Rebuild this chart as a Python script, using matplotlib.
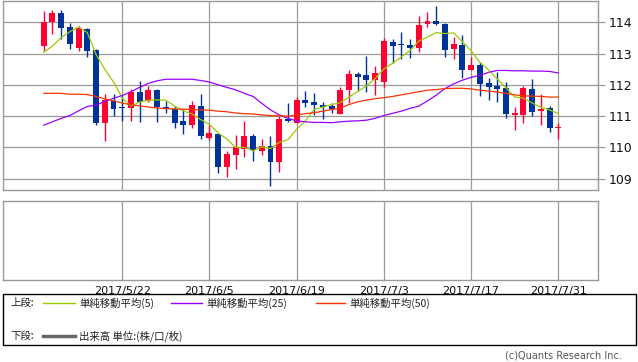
import numpy as np
import pandas as pd
import matplotlib
matplotlib.use('Agg')
import matplotlib.pyplot as plt
from matplotlib.patches import Rectangle
from matplotlib.lines import Line2D

plt.rcParams['font.family'] = ['DejaVu Sans']

# 営業日 2017/5/9 - 2017/7/31
dates = pd.bdate_range('2017-05-09', '2017-07-31')

opens = [113.25, 114.00, 114.29, 113.84, 113.19, 113.79, 113.12, 110.79, 111.48, 111.30,
         111.27, 111.77, 111.47, 111.84, 111.29, 111.24, 110.85, 110.73, 111.33, 110.30,
         110.43, 109.39, 109.77, 109.95, 110.37, 109.90, 110.06, 109.52, 110.92, 110.79,
         111.51, 111.45, 111.35, 111.32, 111.08, 111.84, 112.35, 112.31, 112.17, 112.10,
         113.36, 113.29, 113.27, 113.19, 113.96, 114.04, 113.95, 113.16, 113.27, 112.48,
         112.63, 112.06, 111.96, 111.90, 111.04, 111.05, 111.87, 111.15, 111.26, 110.62]
highs = [114.36, 114.39, 114.39, 113.99, 113.88, 113.82, 113.14, 111.70, 111.70, 111.63,
         111.86, 112.13, 111.97, 111.86, 111.48, 111.33, 111.23, 111.49, 111.70, 110.72,
         110.47, 109.89, 110.40, 110.83, 110.43, 110.27, 110.35, 110.99, 111.42, 111.60,
         111.81, 111.73, 111.45, 111.41, 111.92, 112.47, 112.42, 112.92, 112.60, 113.49,
         113.47, 113.69, 113.47, 114.21, 114.33, 114.52, 113.97, 113.54, 113.59, 112.88,
         112.72, 112.22, 112.42, 112.08, 111.29, 111.96, 112.19, 111.71, 111.32, 110.79]
lows = [113.08, 113.61, 113.45, 113.16, 113.09, 112.90, 110.73, 110.19, 111.00, 110.86,
        110.83, 110.82, 111.46, 110.82, 111.11, 110.63, 110.44, 110.63, 110.27, 110.24,
        109.17, 109.07, 109.32, 109.71, 109.58, 109.76, 108.78, 109.22, 110.82, 110.77,
        111.28, 111.03, 110.92, 111.10, 111.07, 111.43, 111.79, 111.78, 111.67, 111.92,
        112.69, 112.82, 112.87, 113.06, 113.84, 113.90, 112.90, 112.84, 112.22, 112.46,
        111.65, 111.51, 111.45, 110.95, 110.56, 110.79, 111.00, 110.72, 110.50, 110.28]
closes = [114.00, 114.29, 113.83, 113.32, 113.81, 113.09, 110.78, 111.52, 111.24, 111.27,
          111.77, 111.45, 111.84, 111.29, 111.22, 110.79, 110.72, 111.35, 110.38, 110.45,
          109.39, 109.79, 110.00, 110.35, 109.91, 110.06, 109.54, 110.92, 110.84, 111.53,
          111.41, 111.36, 111.29, 111.24, 111.83, 112.35, 112.26, 112.15, 112.39, 113.40,
          113.25, 113.26, 113.19, 113.91, 114.04, 113.93, 113.11, 113.32, 112.48, 112.63,
          112.04, 111.94, 111.88, 111.08, 111.10, 111.90, 111.14, 111.24, 110.63, 110.62]

sma5 = [113.04, 113.24, 113.51, 113.70, 113.85, 113.67, 112.97, 112.50, 112.09, 111.58,
        111.32, 111.45, 111.51, 111.52, 111.51, 111.32, 111.17, 111.07, 110.89, 110.74,
        110.46, 110.27, 110.00, 110.00, 109.89, 110.02, 109.97, 110.16, 110.25, 110.58,
        110.85, 111.21, 111.29, 111.37, 111.43, 111.61, 111.79, 111.97, 112.20, 112.51,
        112.69, 112.89, 113.10, 113.40, 113.53, 113.67, 113.64, 113.66, 113.38, 113.09,
        112.72, 112.48, 112.19, 111.91, 111.61, 111.58, 111.42, 111.29, 111.20, 111.08]
sma25 = [110.71, 110.82, 110.93, 111.02, 111.17, 111.31, 111.35, 111.47, 111.57, 111.66,
         111.78, 111.92, 112.05, 112.13, 112.18, 112.18, 112.18, 112.18, 112.14, 112.09,
         112.00, 111.92, 111.84, 111.73, 111.63, 111.41, 111.20, 111.04, 110.93, 110.85,
         110.82, 110.80, 110.80, 110.79, 110.82, 110.84, 110.85, 110.87, 110.93, 111.02,
         111.09, 111.16, 111.25, 111.32, 111.49, 111.67, 111.88, 112.03, 112.15, 112.24,
         112.30, 112.40, 112.46, 112.46, 112.45, 112.45, 112.44, 112.44, 112.43, 112.38]
sma50 = [111.73, 111.73, 111.73, 111.70, 111.70, 111.69, 111.63, 111.55, 111.49, 111.42,
         111.36, 111.33, 111.29, 111.26, 111.24, 111.23, 111.22, 111.21, 111.20, 111.19,
         111.16, 111.14, 111.10, 111.08, 111.07, 111.04, 111.02, 111.01, 111.00, 111.04,
         111.08, 111.11, 111.16, 111.21, 111.26, 111.37, 111.46, 111.51, 111.56, 111.59,
         111.63, 111.68, 111.73, 111.78, 111.83, 111.85, 111.88, 111.89, 111.89, 111.87,
         111.83, 111.80, 111.77, 111.73, 111.68, 111.65, 111.64, 111.63, 111.61, 111.61]

tick_dates = ['2017-05-22', '2017-06-05', '2017-06-19', '2017-07-03', '2017-07-17', '2017-07-31']
tick_labels = ['2017/5/22', '2017/6/5', '2017/6/19', '2017/7/3', '2017/7/17', '2017/7/31']
price_ticks = [109, 110, 111, 112, 113, 114]

UP = '#ff0033'
DOWN = '#003399'
GRID = '#999999'

W, H = 638, 362
fig = plt.figure(figsize=(W / 100, H / 100), dpi=100)

def px_axes(x0, y0, x1, y1):
    return fig.add_axes([x0 / W, 1 - y1 / H, (x1 - x0) / W, (y1 - y0) / H])

ax = px_axes(3, 1, 598, 190)
axv = px_axes(3, 201, 598, 280)

idx = np.arange(len(dates))
o = np.array(opens)
c = np.array(closes)
up = c >= o
colors = np.where(up, UP, DOWN)

ax.vlines(idx, lows, highs, colors=colors, lw=1.0, zorder=3)
body_lo = np.minimum(o, c)
body_h = np.maximum(np.abs(c - o), 0.025)
ax.bar(idx, body_h, bottom=body_lo, width=0.68, color=colors, lw=0, zorder=4)

ax.plot(idx, sma5, color='#99cc00', lw=0.9, zorder=5)
ax.plot(idx, sma25, color='#9900ff', lw=0.9, zorder=5)
ax.plot(idx, sma50, color='#ff3300', lw=0.9, zorder=5)

tick_pos = [dates.get_loc(pd.Timestamp(d)) for d in tick_dates]

for a in (ax, axv):
    a.set_xlim(-4.67, 63.55)
    for s in a.spines.values():
        s.set_color(GRID)
        s.set_linewidth(1.0)
    for p in tick_pos:
        a.axvline(p, color=GRID, lw=0.9, zorder=1)

ax.set_ylim(108.64, 114.68)
for p in price_ticks:
    ax.axhline(p, color=GRID, lw=0.9, zorder=1)
ax.yaxis.tick_right()
ax.set_yticks(price_ticks)
ax.tick_params(axis='y', length=5, width=0.9, color=GRID, pad=3, labelsize=9, labelcolor='#111111')
ax.set_xticks([])

axv.set_ylim(0, 1)
axv.set_yticks([])
axv.set_xticks(tick_pos)
axv.set_xticklabels(tick_labels)
axv.tick_params(axis='x', length=0, pad=4, labelsize=8, labelcolor='#111111')

# 凡例ボックス
fig.patches.append(Rectangle((3 / W, 1 - 345 / H), 633 / W, 51 / H, transform=fig.transFigure,
                             fill=False, edgecolor='black', lw=1.0))
jp = ['Noto Sans CJK JP', 'DejaVu Sans']
y1 = 1 - 303 / H
y2 = 1 - 336 / H
fig.text(10 / W, y1, '上段:', family=jp, fontsize=7.5, va='center', color='#222222')
fig.text(10 / W, y2, '下段:', family=jp, fontsize=7.5, va='center', color='#222222')
legend_items = [(43, 75, '#99cc00', '単純移動平均(5)', 1.0),
                (171, 202, '#9900ff', '単純移動平均(25)', 1.0),
                (316, 345, '#ff3300', '単純移動平均(50)', 1.0)]
for x0, x1, col, label, lw in legend_items:
    fig.lines.append(Line2D([x0 / W, x1 / W], [y1, y1], transform=fig.transFigure, color=col, lw=lw))
    fig.text((x1 + 4) / W, y1, label, family=jp, fontsize=7.5, va='center', color='#222222')
fig.lines.append(Line2D([43 / W, 75 / W], [y2, y2], transform=fig.transFigure, color='#666666', lw=2.5))
fig.text(79 / W, y2, '出来高 単位:(株/口/枚)', family=jp, fontsize=7.5, va='center', color='#222222')

fig.text(622 / W, 1 - 356 / H, '(c)Quants Research Inc.', fontsize=7, ha='right', va='center',
         color='#555555')

fig.savefig('out.png', dpi=100)
